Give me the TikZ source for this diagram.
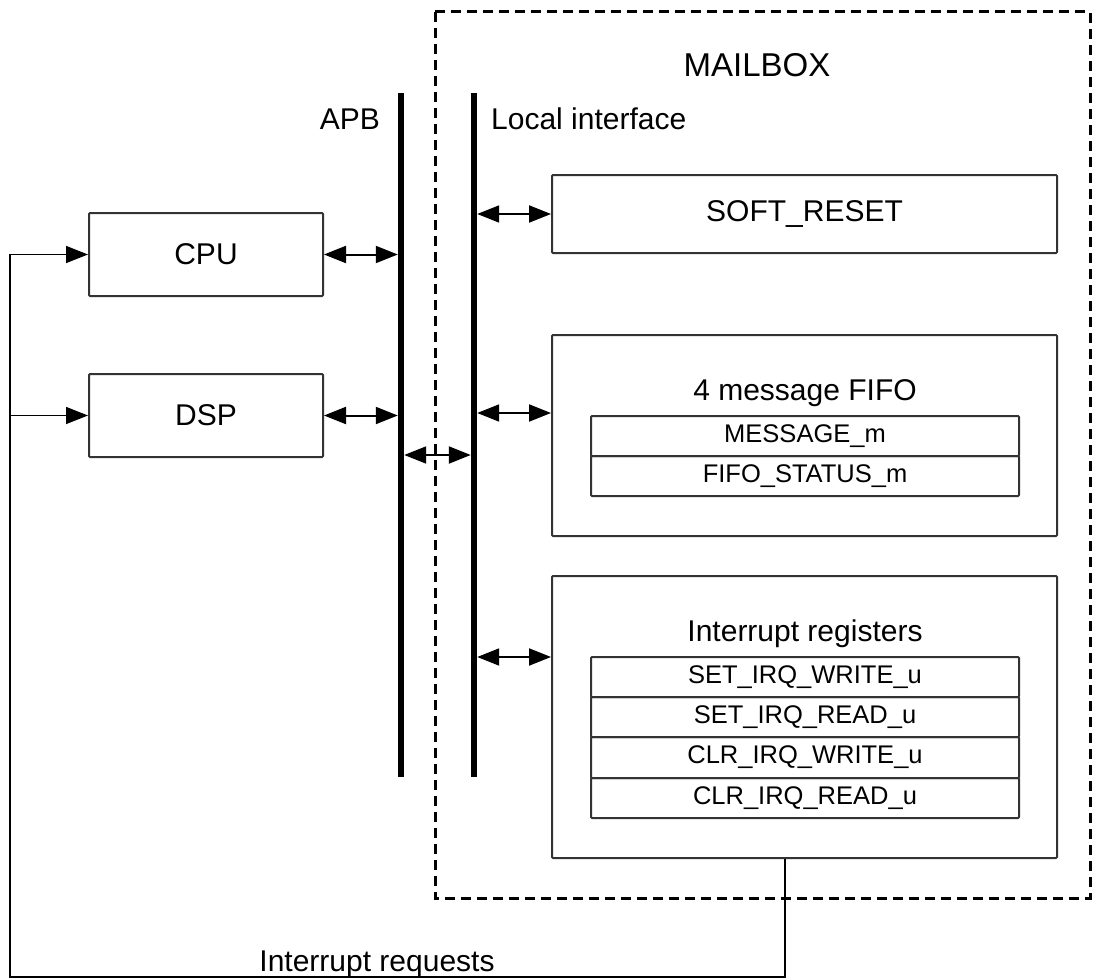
\documentclass[tikz,border=0pt]{standalone}
\usepackage{fontspec}
\setmainfont{Liberation Sans}
\usetikzlibrary{arrows.meta,calc}
\begin{document}
\begin{tikzpicture}[x=1pt,y=-1pt,
  box/.style={draw=black!80, line width=2pt, rounded corners=1pt, inner sep=0pt},
  blk/.style={box, font=\fontsize{30}{36}\selectfont},
  reg/.style={box, minimum width=428pt, minimum height=40pt, font=\fontsize{25.5}{30}\selectfont},
  bus/.style={fill=black, inner sep=0pt, minimum width=6pt, minimum height=684pt},
  lbl/.style={font=\fontsize{30}{36}\selectfont, inner sep=0pt},
  biarrow/.style={line width=2pt, {Triangle[length=22pt,width=17pt]}-{Triangle[length=22pt,width=17pt]}},
  onearrow/.style={line width=1.5pt, -{Triangle[length=22pt,width=17pt]}},
  feed/.style={line width=1.5pt},
  mbox/.style={draw, line width=3pt, dash pattern=on 10pt off 6pt},
]
\useasboundingbox (0,0) rectangle (1094,979);

% mailbox frame
\draw[mbox] (435,12) rectangle (1090,898);
\node[font=\fontsize{33}{40}\selectfont] (mailbox) at (757,65) {MAILBOX};

% buses
\node[bus] (apb) at (401,435) {};
\node[bus] (loc) at (474,435) {};
\node[lbl, anchor=base east] (apblbl) at (380,129) {APB};
\node[lbl, anchor=base west] (loclbl) at (491,129) {Local interface};

% CPU / DSP
\node[blk, minimum width=234pt, minimum height=83pt] (cpu) at (206,254.5) {CPU};
\node[blk, minimum width=234pt, minimum height=83pt] (dsp) at (206,415.5) {DSP};

% mailbox blocks
\node[blk, minimum width=505pt, minimum height=78pt] (sr) at (804.5,214) {SOFT\_RESET};
\node[box, minimum width=505pt, minimum height=201pt] (fifo) at (804.5,435.5) {};
\node[lbl, anchor=base] (fifot) at (805,400) {4 message FIFO};
\node[reg] (msg) at (805,436) {MESSAGE\_m};
\node[reg] (fst) at (805,476) {FIFO\_STATUS\_m};

\node[box, minimum width=505pt, minimum height=282pt] (irq) at (804.5,717) {};
\node[lbl, anchor=base] (irqt) at (805,641) {Interrupt registers};
\node[reg] (r1) at (805,677) {SET\_IRQ\_WRITE\_u};
\node[reg] (r2) at (805,717) {SET\_IRQ\_READ\_u};
\node[reg, minimum height=41pt] (r3) at (805,757.5) {CLR\_IRQ\_WRITE\_u};
\node[reg] (r4) at (805,798) {CLR\_IRQ\_READ\_u};

% bus connections
\draw[biarrow] (cpu.east) -- (cpu.east -| apb.west);
\draw[biarrow] (dsp.east) -- (dsp.east -| apb.west);
\coordinate (mid) at (437,455);
\draw[biarrow] (mid -| apb.east) -- (mid -| loc.west);
\draw[biarrow] (sr.west -| loc.east) -- (sr.west);
\coordinate (fy) at (520,413);
\draw[biarrow] (fy -| loc.east) -- (fy -| fifo.west);
\coordinate (iy) at (520,657);
\draw[biarrow] (iy -| loc.east) -- (iy -| irq.west);

% interrupt requests
\coordinate (irqout) at ([xshift=234pt]irq.south west);
\coordinate (corner) at (10,977);
\draw[onearrow] (irqout) |- (corner) |- (cpu.west);
\draw[onearrow] (corner |- dsp.west) -- (dsp.west);
\node[lbl, anchor=base] (irqreq) at (377,971) {Interrupt requests};
\end{tikzpicture}
\end{document}
